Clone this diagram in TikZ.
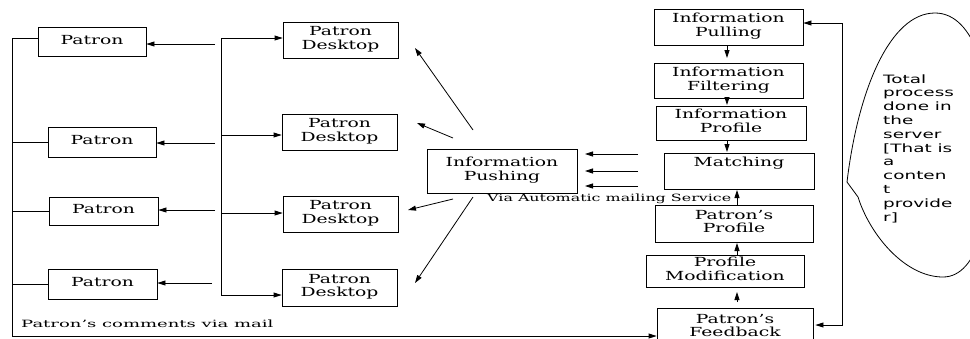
\documentclass[tikz,border=0pt]{standalone}
\usepackage{fontspec}
\usepackage{graphicx}
\setmainfont{DejaVu Serif}
\newfontfamily\bubblefont{DejaVu Sans}
\usetikzlibrary{arrows.meta}

% horizontally widened, centred text block
\newcommand{\wtext}[2][1.5]{\scalebox{#1}[1]{\begin{tabular}{@{}c@{}}#2\end{tabular}}}

\tikzset{
  blk/.style={draw, line width=0.8pt, inner sep=0pt, font=\fontsize{12.5}{13.5}\selectfont},
  conn/.style={line width=0.8pt},
  arr/.style={conn, -{Triangle[length=8pt,width=5pt]}},
  lbl/.style={anchor=base west, inner sep=0pt, font=\fontsize{10}{12}\selectfont},
}

\begin{document}
\begin{tikzpicture}[x=1pt,y=-1pt]
\useasboundingbox (0,0) rectangle (970,338);
\clip (0,0) rectangle (970,338);

% ---- patrons ----
\node[blk, minimum width=108pt, minimum height=29pt] (p1) at (92,41.5)   {\wtext{Patron}};
\node[blk, minimum width=108pt, minimum height=30pt] (p2) at (102,142)   {\wtext{Patron}};
\node[blk, minimum width=109pt, minimum height=28pt] (p3) at (103.5,211) {\wtext{Patron}};
\node[blk, minimum width=109pt, minimum height=30pt] (p4) at (102.5,284) {\wtext{Patron}};

% ---- patron desktops ----
\node[blk, minimum width=115pt, minimum height=36pt] (d1) at (340.5,40)  {\wtext{Patron\\Desktop}};
\node[blk, minimum width=115pt, minimum height=36pt] (d2) at (339.5,132) {\wtext{Patron\\Desktop}};
\node[blk, minimum width=115pt, minimum height=36pt] (d3) at (340.5,214) {\wtext{Patron\\Desktop}};
\node[blk, minimum width=115pt, minimum height=37pt] (d4) at (339.5,287.5) {\wtext{Patron\\Desktop}};

% ---- pushing ----
\node[blk, minimum width=150pt, minimum height=44pt] (push) at (502,171) {\wtext{Information\\Pushing}};

% ---- server chain ----
\node[blk, minimum width=149pt, minimum height=36pt] (pull)  at (728.5,27)   {\wtext{Information\\Pulling}};
\node[blk, minimum width=149pt, minimum height=35pt] (filt)  at (728.5,80.5) {\wtext{Information\\Filtering}};
\node[blk, minimum width=150pt, minimum height=34pt] (iprof) at (731,123)    {\wtext{Information\\Profile}};
\node[blk, minimum width=150pt, minimum height=36pt] (match) at (739,171)    {\wtext{Matching\\ \mbox{}}};
\node[blk, minimum width=158pt, minimum height=37pt] (pprof) at (734,223.5)  {\wtext{Patron’s\\Profile}};
\node[blk, minimum width=158pt, minimum height=32pt] (pmod)  at (725,271)    {\wtext{Profile\\Modification}};
\node[blk, minimum width=156pt, minimum height=38pt, anchor=north] (fb) at (735,308) {\wtext{Patron’s\\Feedback}};

% ---- left trunk to patrons and feedback ----
\coordinate (lt) at (12,38);
\coordinate (lb) at (12,336);
\draw[conn, line width=1pt] (lt) -- (lb);
\draw[conn] (lt) -- (lt -| p1.west);
\draw[conn] (p2.west -| lt) -- (p2.west);
\draw[conn] (p3.west -| lt) -- (p3.west);
\draw[conn] (p4.west -| lt) -- (p4.west);
\draw[arr] (lb) -- (lb -| fb.west);
\node[lbl] (cm) at (21,327) {\scalebox{1.8}[1]{Patron’s comments via mail}};

% ---- arrows into patrons ----
\coordinate (r1) at (215,44);
\coordinate (r2) at (215,143);
\coordinate (r3) at (215,210);
\coordinate (r4) at (212,283);
\draw[arr] (r1) -- (r1 -| p1.east);
\draw[arr] (r2) -- (r2 -| p2.east);
\draw[arr] (r3) -- (r3 -| p3.east);
\draw[arr] (r4) -- (r4 -| p4.east);

% ---- right trunk to desktops ----
\coordinate (rt) at (221,38);
\coordinate (b2) at (221,135);
\coordinate (b3) at (221,213);
\coordinate (rb) at (221,295);
\draw[conn] (rt) -- (rb);
\draw[arr] (rt) -- (rt -| d1.west);
\draw[arr] (b2) -- (b2 -| d2.west);
\draw[arr] (b3) -- (b3 -| d3.west);
\draw[arr] (rb) -- (rb -| d4.west);

% ---- pushing out to desktops ----
\coordinate (u1) at (473,130); \coordinate (v1) at (415,48);
\coordinate (u2) at (453,138); \coordinate (v2) at (417,123);
\coordinate (u3) at (453,199); \coordinate (v3) at (408,210);
\coordinate (u4) at (473,197); \coordinate (v4) at (415,283);
\draw[arr] (u1) -- (v1);
\draw[arr] (u2) -- (v2);
\draw[arr] (u3) -- (v3);
\draw[arr] (u4) -- (v4);

% ---- matching to pushing ----
\coordinate (m1) at (638,154); \coordinate (k1) at (585,154);
\coordinate (m2) at (638,171); \coordinate (k2) at (585,171);
\coordinate (m3) at (638,186); \coordinate (k3) at (585,186);
\draw[arr] (m1) -- (k1);
\draw[arr] (m2) -- (k2);
\draw[arr] (m3) -- (k3);
\node[lbl] (via) at (487,201) {\scalebox{1.59}[1]{Via Automatic mailing Service}};

% ---- chain arrows ----
\coordinate (c1) at (727,46);  \coordinate (e1) at (727,58);
\coordinate (c2) at (727,98);  \coordinate (e2) at (727,105);
\coordinate (c3) at (727,140); \coordinate (e3) at (727,152);
\draw[arr] (c1) -- (e1);
\draw[arr] (c2) -- (e2);
\draw[arr] (c3) -- (e3);
\coordinate (c4) at (737,205); \coordinate (e4) at (737,190);
\coordinate (c5) at (737,255); \coordinate (e5) at (737,243);
\coordinate (c6) at (737,302); \coordinate (e6) at (737,292);
\draw[arr] (c4) -- (e4);
\draw[arr] (c5) -- (e5);
\draw[arr] (c6) -- (e6);

% ---- feedback loop ----
\coordinate (f1) at (842,23);
\coordinate (f2) at (842,325);
\draw[conn, {Triangle[length=8pt,width=5pt]}-{Triangle[length=8pt,width=5pt]}]
  (f1 -| pull.east) -- (f1) -- (f2) -- ([xshift=2pt]f2 -| fb.east);

% ---- server callout ----
\draw[line width=0.8pt] (847,182) .. controls (858,90) and (890,13) .. (935,13)
  .. controls (975,13) and (992,80) .. (992,145)
  .. controls (992,215) and (978,277) .. (943,277)
  .. controls (905,277) and (870,235) .. (858,197) -- cycle;
\node[anchor=base west, inner sep=0pt, font=\bubblefont\fontsize{11.5}{13.8}\selectfont] (note) at (883,83)
  {\scalebox{1.6}[1]{\begin{tabular}[t]{@{}l@{}}Total\\process\\done in\\the\\server\\{[That is}\\a\\conten\\t\\provide\\r]\end{tabular}}};
\end{tikzpicture}
\end{document}
